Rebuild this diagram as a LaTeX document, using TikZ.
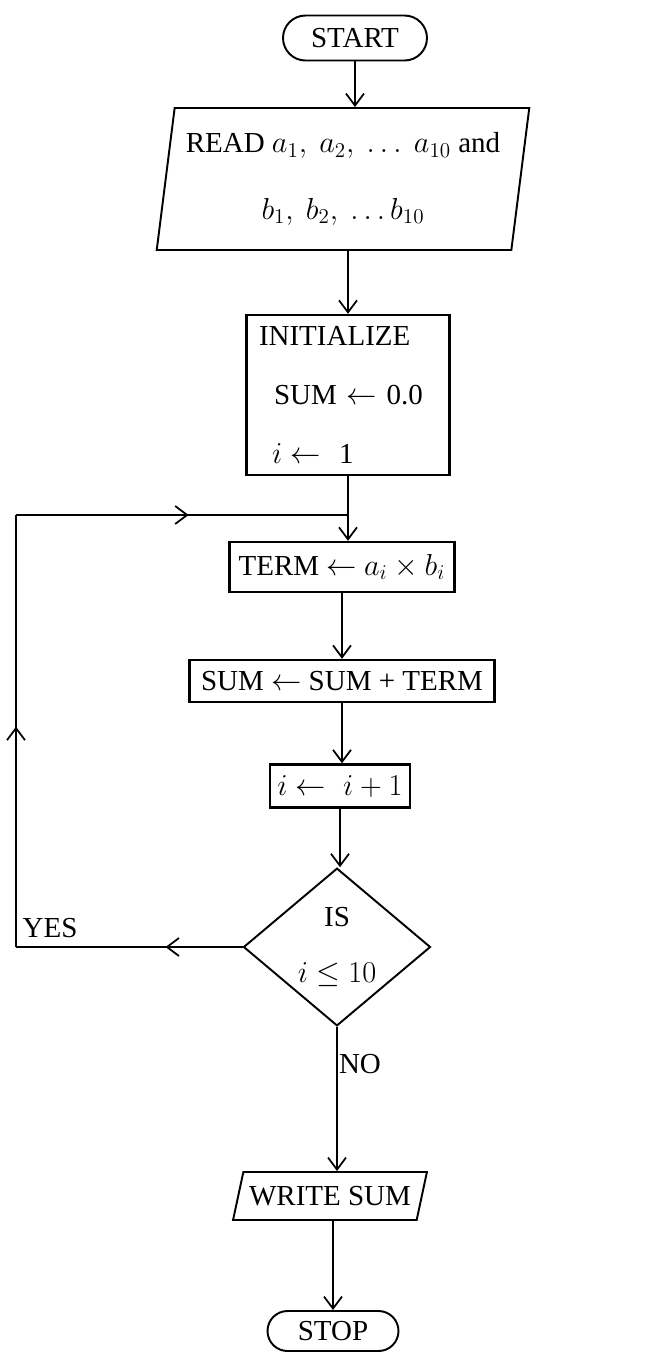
\documentclass[tikz,border=0pt]{standalone}
\usepackage{fontspec}
\setmainfont{Liberation Serif}
\usetikzlibrary{shapes.geometric,shapes.misc,arrows.meta,decorations.markings}

\begin{document}
\begin{tikzpicture}[
        >={Straight Barb[length=2.4mm,width=3.6mm]},
        every node/.style={font=\fontsize{16.5}{19.8}\selectfont},
        terminal box/.style={
            draw,
            rounded rectangle,
            line width=1.1pt,
            inner sep=0pt
        },
        io box/.style={
            draw,
            trapezium,
            trapezium stretches=true,
            line width=1.1pt,
            inner sep=1pt,
            align=center
        },
        process box/.style={
            draw,
            rectangle,
            line width=1.4pt,
            inner sep=1pt
        },
        decision box/.style={
            draw,
            diamond,
            line width=1.1pt,
            inner sep=0pt,
            align=center
        },
        flow line/.style={line width=1pt},
        arrow at/.style={
            postaction={decorate},
            decoration={markings, mark=at position #1 with {\arrow{>}}}
        }
    ]
        \useasboundingbox (0,0) rectangle (13.38,-27.12);

        \node[terminal box, minimum width=2.88cm, minimum height=0.9cm]
            (start) at (7.10,-0.76) {START};
        \node[io box, trapezium left angle=80, trapezium right angle=100,
              minimum width=7.46cm, minimum height=2.84cm] (read) at (6.86,-3.58)
            {READ $a_1,\ a_2,\ \ldots\ a_{10}$ and\\[18pt]$b_1,\ b_2,\ \ldots b_{10}$};
        \node[process box, minimum width=4.06cm, minimum height=3.2cm,
              text width=3.56cm, inner xsep=0.25cm, align=left] (init) at (6.96,-7.90)
            {INITIALIZE\\[14pt]\hspace*{0.3cm}SUM $\leftarrow$ 0.0\\[14pt]\hspace*{0.26cm}$i \leftarrow\;$ 1};
        \node[process box, minimum width=4.5cm, minimum height=1.0cm]
            (term) at (6.84,-11.34) {TERM $\leftarrow$ $a_i \times b_i$};
        \node[process box, minimum width=6.1cm, minimum height=0.84cm]
            (sum) at (6.84,-13.62) {SUM $\leftarrow$ SUM + TERM};
        \node[process box, minimum width=2.8cm, minimum height=0.86cm]
            (incr) at (6.80,-15.72) {$i \leftarrow\; i + 1$};
        \node[decision box, minimum width=3.74cm, minimum height=3.1cm]
            (test) at (6.74,-18.94) {IS\\[12pt]$i \le 10$};
        \node[io box, trapezium left angle=67, trapezium right angle=113,
              minimum width=3.88cm, minimum height=0.96cm] (write) at (6.60,-23.92)
            {WRITE SUM};
        \node[terminal box, minimum width=2.62cm, minimum height=0.8cm]
            (stop) at (6.66,-26.62) {STOP};

        % loop corners
        \coordinate (join) at (init.south |- 0,-10.3);
        \coordinate (ytop) at (0.32,-10.3);
        \coordinate (ybot) at (0.32,-18.94);

        \draw[flow line, ->] (start.south) -- (start.south |- read.north);
        \draw[flow line, ->] (read.south -| init.north) -- (init.north);
        \draw[flow line, ->] (init.south) -- (init.south |- term.north);
        \draw[flow line, ->] (term.south) -- (term.south |- sum.north);
        \draw[flow line, ->] (sum.south) -- (sum.south |- incr.north);
        \draw[flow line, ->] (incr.south) -- (incr.south |- test.north);
        \draw[flow line, ->] (test.south) -- (test.south |- write.north);
        \draw[flow line, ->] (write.south -| stop.north) -- (stop.north);

        \draw[flow line, arrow at=0.34] (test.west) -- (ybot);
        \draw[flow line, arrow at=0.51] (ybot) -- (ytop);
        \draw[flow line, arrow at=0.52] (ytop) -- (join);

        \node (yes) at (1.0,-18.56) {YES};
        \node (no) at (7.2,-21.28) {NO};
    \end{tikzpicture}
\end{document}
